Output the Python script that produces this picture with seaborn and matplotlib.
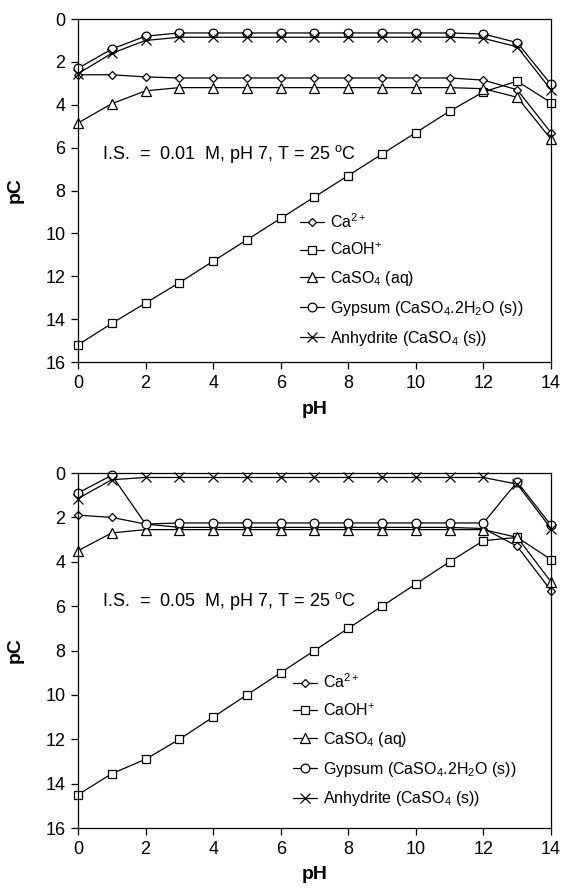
import pandas as pd
import matplotlib
matplotlib.use("Agg")
import matplotlib.pyplot as plt
import seaborn as sns

sns.set_style("white")
plt.rcParams['font.family'] = ['Liberation Sans', 'DejaVu Sans']
plt.rcParams['mathtext.fontset'] = 'custom'
plt.rcParams['mathtext.rm'] = 'Liberation Sans'
plt.rcParams['mathtext.it'] = 'Liberation Sans'
# everything in plain black, like the printed figure
for k in ['text.color', 'axes.labelcolor', 'xtick.color', 'ytick.color']:
    plt.rcParams[k] = 'black'

ph = list(range(15))

# panel 1: I.S. = 0.01 M
ca_1 = [2.6, 2.6, 2.7, 2.75, 2.75, 2.75, 2.75, 2.75, 2.75, 2.75, 2.75, 2.75, 2.85, 3.3, 5.3]
caoh_1 = [15.2, 14.2, 13.25, 12.3, 11.3, 10.3, 9.3, 8.3, 7.3, 6.3, 5.3, 4.3, 3.4, 2.9, 3.9]
caso4_1 = [4.85, 3.95, 3.35, 3.2, 3.2, 3.2, 3.2, 3.2, 3.2, 3.2, 3.2, 3.2, 3.25, 3.65, 5.6]
gyps_1 = [2.3, 1.4, 0.8, 0.65, 0.65, 0.65, 0.65, 0.65, 0.65, 0.65, 0.65, 0.65, 0.7, 1.1, 3.05]
anhy_1 = [2.55, 1.6, 1.0, 0.85, 0.85, 0.85, 0.85, 0.85, 0.85, 0.85, 0.85, 0.85, 0.9, 1.3, 3.3]

# panel 2: I.S. = 0.05 M
ca_2 = [1.9, 2.0, 2.3, 2.45, 2.45, 2.45, 2.45, 2.45, 2.45, 2.45, 2.45, 2.45, 2.5, 3.3, 5.3]
caoh_2 = [14.5, 13.55, 12.9, 12.0, 11.0, 10.0, 9.0, 8.0, 7.0, 6.0, 5.0, 4.0, 3.05, 2.9, 3.9]
caso4_2 = [3.5, 2.7, 2.55, 2.55, 2.55, 2.55, 2.55, 2.55, 2.55, 2.55, 2.55, 2.55, 2.55, 2.9, 4.9]
gyps_2 = [0.9, 0.1, 2.3, 2.25, 2.25, 2.25, 2.25, 2.25, 2.25, 2.25, 2.25, 2.25, 2.25, 0.4, 2.35]
anhy_2 = [1.15, 0.3, 0.2, 0.2, 0.2, 0.2, 0.2, 0.2, 0.2, 0.2, 0.2, 0.2, 0.2, 0.5, 2.5]

labels = ['Ca$^{2+}$', 'CaOH$^{+}$', 'CaSO$_4$ (aq)',
          'Gypsum (CaSO$_4$.2H$_2$O (s))', 'Anhydrite (CaSO$_4$ (s))']
markers = ['D', 's', '^', 'o', 'x']
msizes = [4.2, 6, 6.5, 6.3, 6.5]
notes = ['I.S.  =  0.01  M, pH 7, T = 25 $^{\\mathrm{o}}$C',
         'I.S.  =  0.05  M, pH 7, T = 25 $^{\\mathrm{o}}$C']
note_y = [6.3, 5.75]
leg_x = [6.58, 6.37]

panels = [[ca_1, caoh_1, caso4_1, gyps_1, anhy_1],
          [ca_2, caoh_2, caso4_2, gyps_2, anhy_2]]

fig = plt.figure(figsize=(5.62, 8.89), dpi=100)
ax1 = fig.add_axes([0.1388, 0.5928, 0.8416, 0.3858])
ax2 = fig.add_axes([0.1388, 0.0686, 0.8416, 0.3993])

for i, (ax, series, note) in enumerate(zip([ax1, ax2], panels, notes)):
    for vals, lab, m, ms in zip(series, labels, markers, msizes):
        df = pd.DataFrame({'pH': ph, 'pC': vals})
        sns.lineplot(data=df, x='pH', y='pC', ax=ax, color='black', lw=0.9,
                     marker=m, markersize=ms,
                     markerfacecolor='white', markeredgecolor='black',
                     markeredgewidth=0.9, label=lab, clip_on=False)
    ax.set_xlim(0, 14)
    ax.set_ylim(16, 0)
    ax.set_xticks(range(0, 15, 2))
    ax.set_yticks(range(0, 17, 2))
    ax.tick_params(axis='both', direction='out', length=5, width=0.9, pad=4,
                   labelsize=13, bottom=True, left=True, top=False, right=False)
    for s in ax.spines.values():
        s.set_color('black')
        s.set_linewidth(0.9)
    ax.set_xlabel('pH', fontsize=14, fontweight='bold')
    ax.set_ylabel('pC', fontsize=14, fontweight='bold')
    ax.text(0.7, note_y[i], note, fontsize=13, va='center', ha='left')
    ax.legend(loc='upper left', bbox_to_anchor=(leg_x[i], 9.0),
              bbox_transform=ax.transData, frameon=False,
              fontsize=11.5, handlelength=1.5, handletextpad=0.35,
              labelspacing=0.68, borderpad=0, borderaxespad=0)

ax1.yaxis.set_label_coords(-0.115, 0.5)
ax2.yaxis.set_label_coords(-0.115, 0.5)
ax1.xaxis.set_label_coords(0.5, -0.115)
ax2.xaxis.set_label_coords(0.5, -0.108)

fig.savefig('out.png', dpi=100)
